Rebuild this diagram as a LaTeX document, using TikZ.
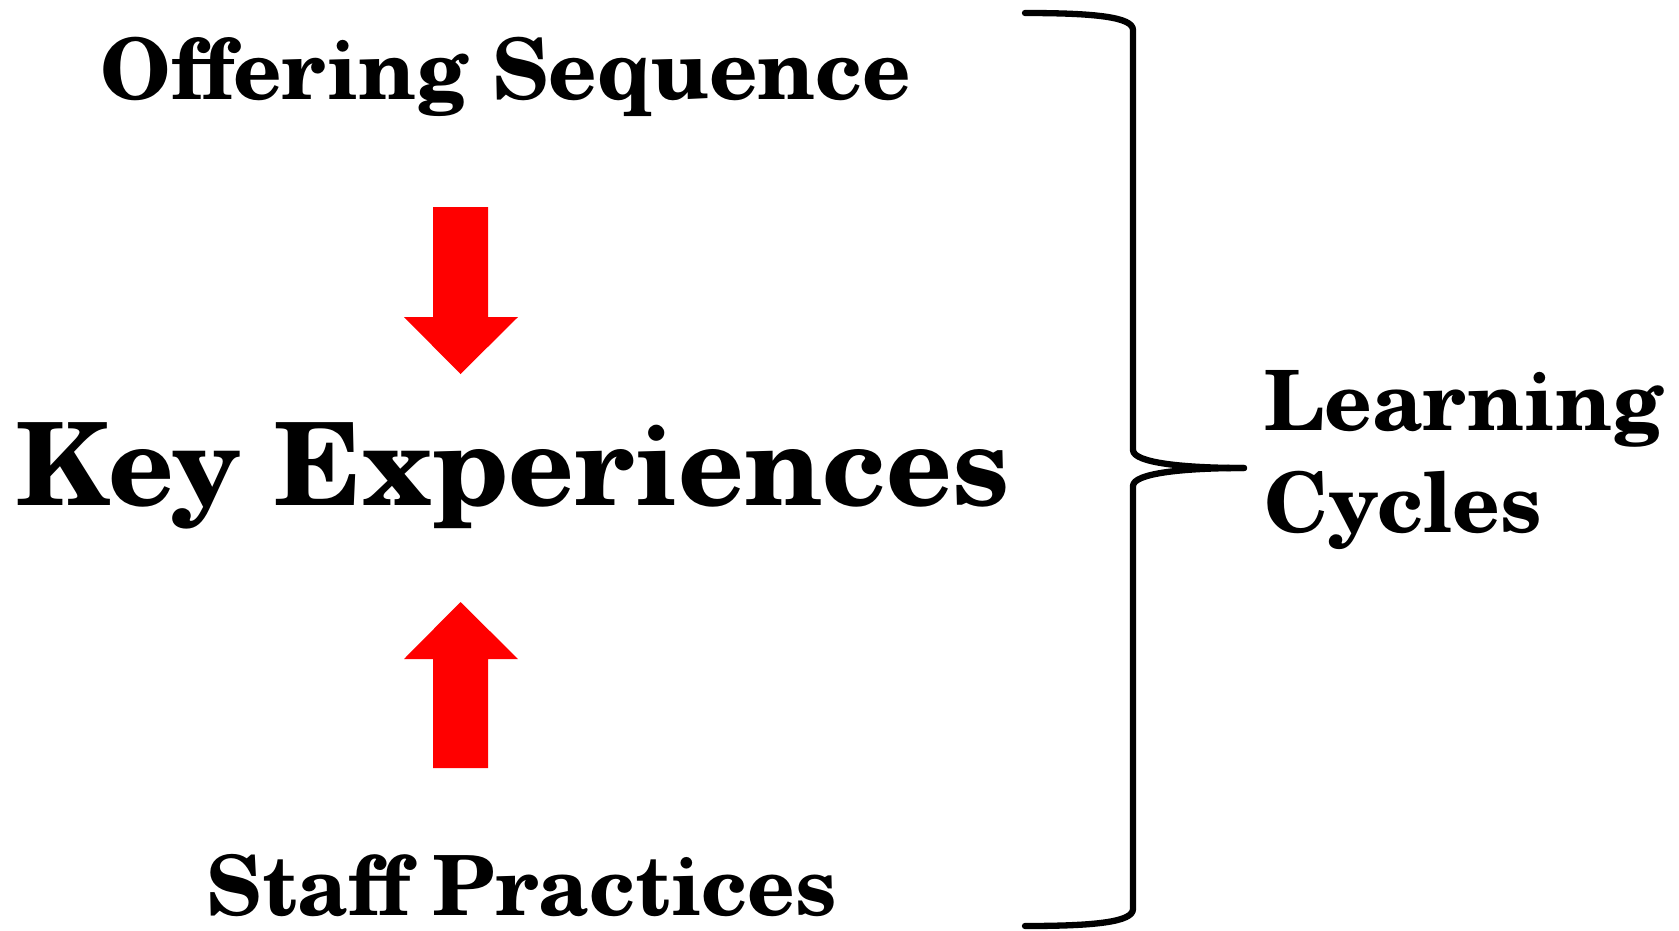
\documentclass[tikz,border=0pt]{standalone}
\usepackage{fontspec}
\newfontfamily\schola{texgyreschola-bold.otf}
\begin{document}
\begin{tikzpicture}[x=1pt,y=-1pt,
  lbl/.style={inner sep=0pt,text=black,font=\schola},
  redarrow/.style={fill=red,draw=none},
  bracepath/.style={line width=6.3pt,line cap=round,line join=round}]
\useasboundingbox (0,0) rectangle (1679,930);
\node[lbl,anchor=base,font=\schola\fontsize{84.6}{84.6}\selectfont] (offer) at (506,99) {Offering Sequence};
\node[lbl,anchor=base,font=\schola\fontsize{114.8}{114.8}\selectfont] (key) at (513.5,505) {Key Experiences};
\node[lbl,anchor=base,font=\schola\fontsize{83}{83}\selectfont] (staff) at (522,915) {Staff Practices};
\node[lbl,anchor=base west,font=\schola\fontsize{83.2}{83.2}\selectfont] (learn) at (1264,430) {Learning};
\node[lbl,anchor=base west,font=\schola\fontsize{83.2}{83.2}\selectfont] (cyc) at (1264,532) {Cycles};
% down arrow
\fill[redarrow] (433,207) -- (488,207) -- (488,317) -- (518,317) -- (460.5,374) -- (404,317) -- (433,317) -- cycle;
% up arrow
\fill[redarrow] (433,768) -- (488,768) -- (488,659) -- (518,659) -- (460.5,602) -- (404,659) -- (433,659) -- cycle;
% brace
\coordinate (btop) at (1025,13);
\coordinate (btip) at (1244,468);
\coordinate (bbot) at (1025,926);
\draw[bracepath] (btop) .. controls (1095,13) and (1133,17) .. (1133,30) -- (1133,450)
  .. controls (1133,463) and (1185,468) .. (btip);
\draw[bracepath] (btip) .. controls (1185,468) and (1133,473) .. (1133,486) -- (1133,909)
  .. controls (1133,922) and (1095,926) .. (bbot);
\end{tikzpicture}
\end{document}
